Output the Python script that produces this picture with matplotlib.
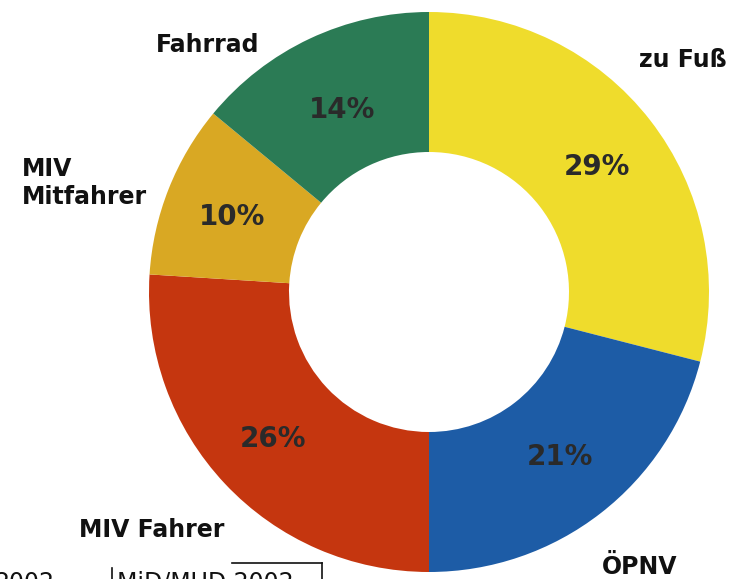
import matplotlib.pyplot as plt
from matplotlib.lines import Line2D

# modal split, clockwise from 12 o'clock
modes = ["zu Fuß", "ÖPNV", "MIV Fahrer", "MIV\nMitfahrer", "Fahrrad"]
shares = [29, 21, 26, 10, 14]
colors = ["#efdc2c", "#1d5ca6", "#c5360f", "#d9a823", "#2b7b55"]

W, H = 744, 579
fig = plt.figure(figsize=(W / 100, H / 100), dpi=100)
ax = fig.add_axes([0, 0, 1, 1])

cx, cy, r = 429, H - 292, 280
wedges, _ = ax.pie(shares, colors=colors, startangle=90, counterclock=False,
                   center=(cx, cy), radius=r,
                   wedgeprops=dict(width=r * 0.5, linewidth=0))
ax.set_xlim(0, W)
ax.set_ylim(0, H)
ax.set_aspect("equal")
ax.axis("off")

font = "DejaVu Sans"

# percentages inside the ring
pct_pos = [(597, 167), (560, 457), (273, 439), (232, 217), (342, 110)]
for s, (x, y) in zip(shares, pct_pos):
    ax.text(x, H - y, f"{s}%", ha="center", va="center", fontsize=20,
            fontweight="bold", family=font, color="#2a2a2a")

# category names outside
name_pos = [(683, 60, "center"), (640, 567, "center"), (152, 530, "center"),
            (22, 183, "left"), (208, 45, "center")]
for m, (x, y, ha) in zip(modes, name_pos):
    ax.text(x, H - y, m, ha=ha, va="center", fontsize=17, fontweight="bold",
            family=font, color="#111111", linespacing=1.2)

# cut off source line at the bottom edge
ax.text(-6, H - 571, "2002", ha="left", va="top", fontsize=17,
        family=font, color="#111111")
ax.text(117, H - 571, "MiD/MUD 2002", ha="left", va="top", fontsize=17,
        family=font, color="#111111")
for xs, ys in [((112, 112), (568, 579)), ((232, 322), (563, 563)),
               ((322, 322), (563, 579))]:
    ax.add_line(Line2D(xs, [H - v for v in ys], color="#111111", lw=1.2))

fig.savefig("out.png", dpi=100, facecolor="white")
